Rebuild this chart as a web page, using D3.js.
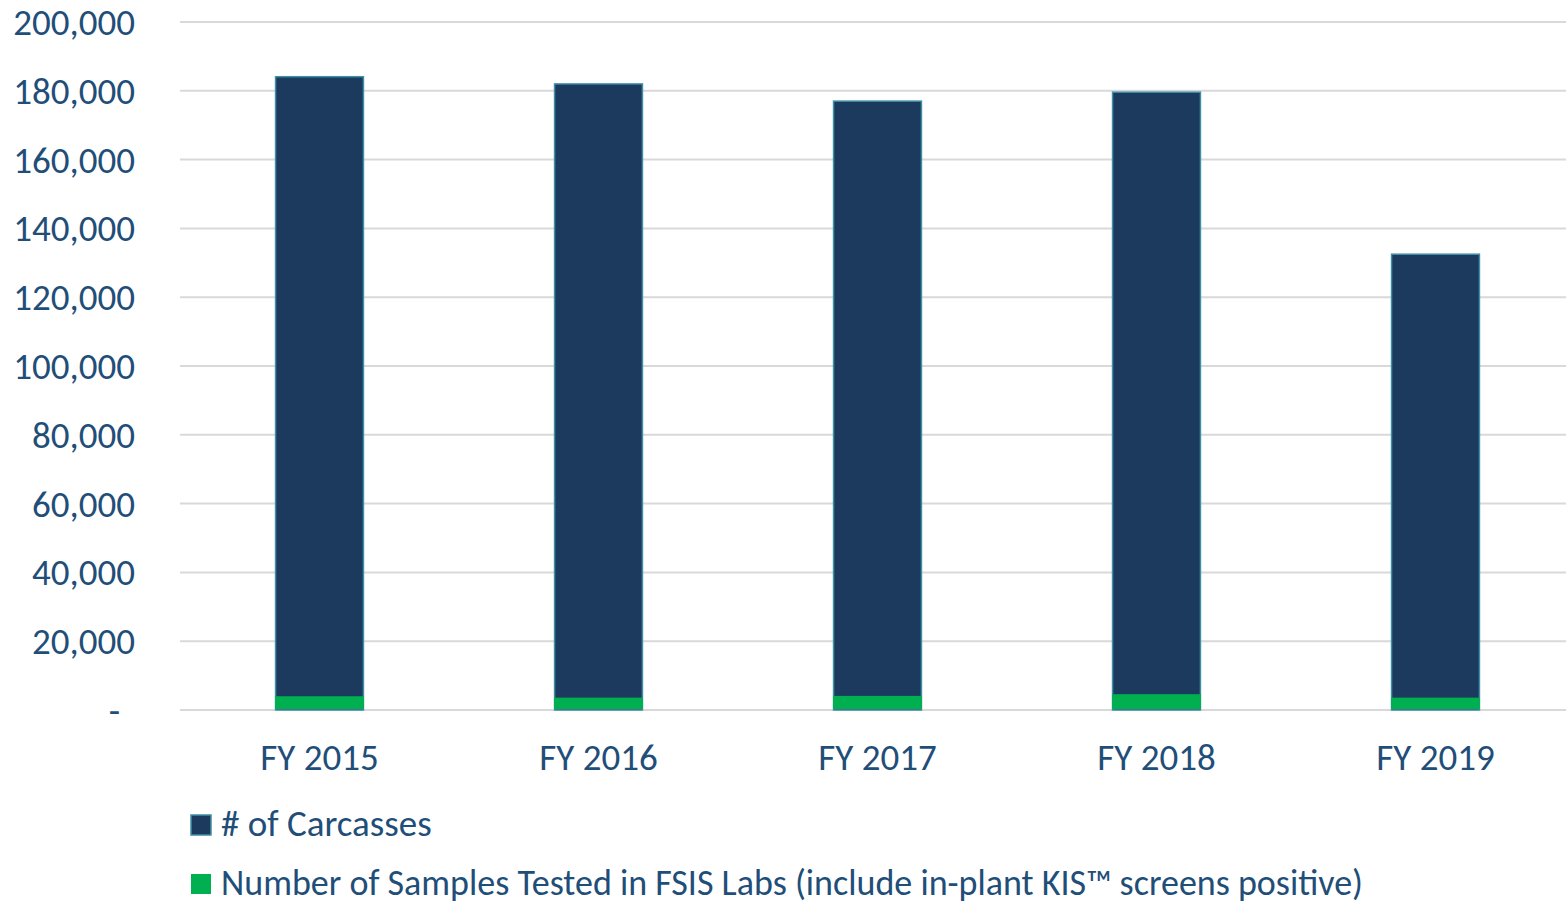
<!DOCTYPE html>
<html><head><meta charset="utf-8">
<script src="https://cdn.jsdelivr.net/npm/d3@7"></script>
<style>body{margin:0;background:#fff}svg{display:block}</style>
</head><body>
<svg id="chart" width="1566" height="906"></svg>
<script>
const categories = ["FY 2015","FY 2016","FY 2017","FY 2018","FY 2019"];
const carcasses = [184100, 182000, 177000, 179600, 132500];
const samples = [4000, 3600, 4100, 4600, 3600];
const yTicks = [0,20000,40000,60000,80000,100000,120000,140000,160000,180000,200000];
const seriesNames = ["# of Carcasses","Number of Samples Tested in FSIS Labs (include in-plant KIS\u2122 screens positive)"];

const textColor = "#1f4e79";
const font = "Calibri, Carlito, 'Open Sans', sans-serif";
const fs = 37;
const svg = d3.select("#chart");
const x = d3.scaleBand().domain(categories).range([180,1575]).paddingInner(0.685).paddingOuter(0.3425);
const y = d3.scaleLinear().domain([0,200000]).range([710,22]);

svg.append("g").selectAll("line").data(yTicks).join("line")
  .attr("x1",180).attr("x2",1566)
  .attr("y1",d=>y(d)).attr("y2",d=>y(d))
  .attr("stroke","#d9d9d9").attr("stroke-width",2);

const fmt = d3.format(",");
svg.append("g").selectAll("text").data(yTicks).join("text")
  .attr("x",d=>d===0?120:135).attr("y",d=>y(d)+13)
  .attr("text-anchor","end")
  .attr("font-family",font).attr("font-size",fs).attr("fill",textColor)
  .text(d=>d===0?"-":fmt(d));

svg.append("g").selectAll("rect").data(categories).join("rect")
  .attr("x",d=>x(d)).attr("width",x.bandwidth())
  .attr("y",(d,i)=>y(carcasses[i])).attr("height",(d,i)=>y(0)-y(carcasses[i]))
  .attr("fill","#1b3a5e").attr("stroke","#3f8fa5").attr("stroke-width",1.5);

svg.append("g").selectAll("rect").data(categories).join("rect")
  .attr("x",d=>x(d)-0.5).attr("width",x.bandwidth()+1)
  .attr("y",(d,i)=>y(samples[i])).attr("height",(d,i)=>y(0)-y(samples[i])-1)
  .attr("fill","#00b050");

svg.append("g").selectAll("text").data(categories).join("text")
  .attr("x",d=>x(d)+x.bandwidth()/2).attr("y",770)
  .attr("text-anchor","middle")
  .attr("font-family",font).attr("font-size",fs).attr("fill",textColor)
  .text(d=>d);

const legend = svg.append("g");
const lc = [{fill:"#1b3a5e",stroke:"#3f8fa5"},{fill:"#00b050",stroke:"none"}];
seriesNames.forEach((n,i)=>{
  const yy = 815 + i*59;
  legend.append("rect").attr("x",191).attr("y",yy).attr("width",20).attr("height",20)
    .attr("fill",lc[i].fill).attr("stroke",lc[i].stroke).attr("stroke-width",1.5);
  legend.append("text").attr("x",221).attr("y",yy+21)
    .attr("font-family",font).attr("font-size",i===1?36:fs).attr("fill",textColor).text(n);
});
</script>
</body></html>
